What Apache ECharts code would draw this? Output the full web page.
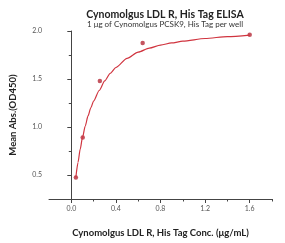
<!DOCTYPE html>
<html><head><meta charset="utf-8">
<script src="https://cdn.jsdelivr.net/npm/echarts@6/dist/echarts.min.js"></script>
<style>html,body{margin:0;padding:0;background:#fff}#c{width:285px;height:243px}</style>
</head><body><div id="c"></div>
<script>
// measured points (x: concentration µg/mL, y: OD450)
const concentrations = [0.041, 0.1024, 0.256, 0.64, 1.6];
const absorbance = [0.475, 0.89, 1.48, 1.875, 1.96];
// fitted curve
const fitX = [0.041, 0.06, 0.08, 0.1, 0.125, 0.15, 0.175, 0.2, 0.25, 0.3, 0.35, 0.4, 0.5, 0.6, 0.7, 0.8, 0.9, 1.0, 1.2, 1.4, 1.6];
const fitY = [0.475, 0.63, 0.77, 0.89, 1.01, 1.115, 1.20, 1.27, 1.38, 1.48, 1.56, 1.62, 1.715, 1.78, 1.822, 1.853, 1.876, 1.894, 1.922, 1.942, 1.958];
const xMajorTicks = [0, 0.4, 0.8, 1.2, 1.6];
const xMinorTicks = [0.2, 0.6, 1.0, 1.4, 1.8];
const yMajorTicks = [0.5, 1.0, 1.5, 2.0];
const yMinorTicks = [0.25, 0.75, 1.25, 1.75];

const fontFam = 'Lato';
const chart = echarts.init(document.getElementById('c'));
const axisCommon = {
  type: 'value', splitLine: {show: false},
  axisLine: {show: true, lineStyle: {color: '#444', width: 1}},
};
chart.setOption({
  animation: false,
  title: {
    text: 'Cynomolgus LDL R, His Tag ELISA',
    subtext: '1 μg of Cynomolgus PCSK9, His Tag per well',
    left: 160, textAlign: 'center', top: 4, itemGap: 0,
    textStyle: {fontFamily: fontFam, fontSize: 10.5, fontWeight: 'bold', color: '#222'},
    subtextStyle: {fontFamily: fontFam, fontSize: 8, color: '#333'}
  },
  grid: {left: 44, right: 13, top: 31, bottom: 42},
  xAxis: [
    Object.assign({}, axisCommon, {
      min: -0.2, max: 1.8,
      name: 'Cynomolgus LDL R, His Tag Conc. (μg/mL)',
      nameLocation: 'middle', nameGap: 29,
      nameTextStyle: {fontFamily: fontFam, fontSize: 9.5, fontWeight: 'bold', color: '#222'},
      axisTick: {show: true, length: 4, customValues: xMajorTicks, lineStyle: {color: '#444'}},
      axisLabel: {customValues: xMajorTicks, formatter: v => v.toFixed(1), fontFamily: fontFam, fontSize: 7, color: '#555', margin: 6}
    }),
    Object.assign({}, axisCommon, {
      min: -0.2, max: 1.8, position: 'bottom',
      axisLine: {show: false},
      axisTick: {show: true, length: 2.5, customValues: xMinorTicks, lineStyle: {color: '#444'}},
      axisLabel: {show: false}
    })
  ],
  yAxis: [
    Object.assign({}, axisCommon, {
      min: 0.25, max: 2.0,
      name: 'Mean Abs.(OD450)',
      nameLocation: 'middle', nameGap: 31, nameRotate: 90,
      nameTextStyle: {fontFamily: fontFam, fontSize: 9.5, fontWeight: 'bold', color: '#222'},
      axisTick: {show: true, length: 4, customValues: yMajorTicks, lineStyle: {color: '#444'}},
      axisLabel: {customValues: yMajorTicks, formatter: v => v.toFixed(1), fontFamily: fontFam, fontSize: 7, color: '#555', margin: 7}
    }),
    Object.assign({}, axisCommon, {
      min: 0.25, max: 2.0, position: 'left',
      axisLine: {show: false},
      axisTick: {show: true, length: 2.5, customValues: yMinorTicks, lineStyle: {color: '#444'}},
      axisLabel: {show: false}
    })
  ],
  series: [
    {
      type: 'line', xAxisIndex: 0, yAxisIndex: 0,
      data: fitX.map((x, i) => [x, fitY[i]]),
      smooth: 0.25, smoothMonotone: 'x', showSymbol: false, symbol: 'none',
      lineStyle: {color: '#d0343f', width: 1.2}
    },
    {
      type: 'scatter', xAxisIndex: 0, yAxisIndex: 0,
      data: concentrations.map((x, i) => [x, absorbance[i]]),
      symbol: 'circle', symbolSize: 4.5,
      itemStyle: {color: '#b52a38'}
    }
  ]
});
</script></body></html>
